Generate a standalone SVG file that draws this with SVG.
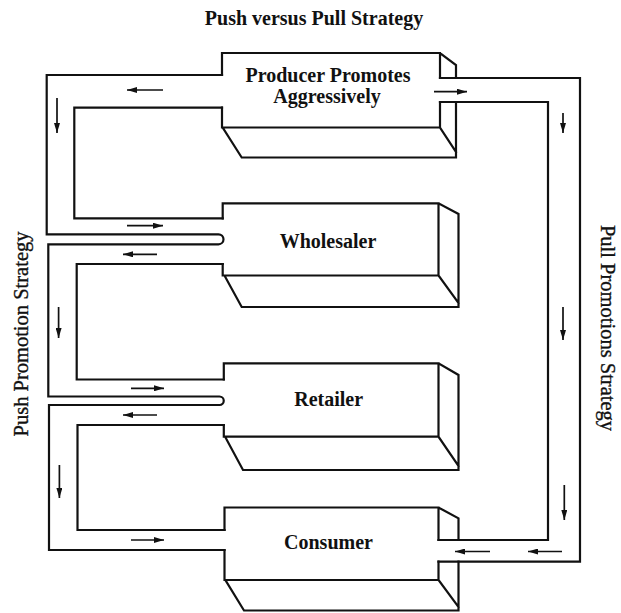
<svg xmlns="http://www.w3.org/2000/svg" width="621" height="613" viewBox="0 0 621 613">
  <style>
    .ln{fill:none;stroke:#111;stroke-width:2.2;stroke-linejoin:miter;stroke-linecap:square}
    .arr{fill:none;stroke:#111;stroke-width:1.7;marker-end:url(#head)}
    .lbl{font-family:"Liberation Serif","Times New Roman",serif;font-weight:bold;font-size:20px;text-anchor:middle;fill:#111}
    .side{font-family:"Liberation Serif","Times New Roman",serif;font-size:20.5px;text-anchor:middle;fill:#111;stroke:#111;stroke-width:0.35}
  </style>
  <defs>
    <marker id="head" viewBox="0 0 10 6" refX="10" refY="3" markerWidth="10" markerHeight="6" markerUnits="userSpaceOnUse" orient="auto">
      <path d="M0,0 L10,3 L0,6 z" fill="#111"/>
    </marker>
  </defs>
  <rect width="621" height="613" fill="#fff"/>

  <text class="lbl" x="314" y="24.5" font-size="20.5">Push versus Pull Strategy</text>
  <text class="side" transform="translate(28,334) rotate(-90)">Push Promotion Strategy</text>
  <text class="side" transform="translate(601,328) rotate(90)" font-size="20px">Pull Promotions Strategy</text>

  <!-- channel network: push loop on the left, pull loop on the right -->
  <g id="connectors">
    <path class="ln" d="M222,75 H46.7 V234.3 H218.5 A5,5 0 0 1 218.5,244.3 H48.3 V396.5 H219.5 A4.25,4.25 0 0 1 219.5,405 H49 V550 H224.5"/>
    <path class="ln" d="M222,107.7 H74.3 V218.3 H222.7 M222.7,264 H76.7 V379.5 H223.8 M223.8,425 H77.5 V530 H224.5"/>
    <path class="ln" d="M440,78 H580 V561.7 H438.5"/>
    <path class="ln" d="M440,102 H548 V540 H438.5"/>

    <path class="arr" d="M163,90 H127"/>
    <path class="arr" d="M57,98 V133"/>
    <path class="arr" d="M127,225.7 H163"/>
    <path class="arr" d="M157,254.3 H123"/>
    <path class="arr" d="M58.6,307 V338"/>
    <path class="arr" d="M131,388.3 H164"/>
    <path class="arr" d="M157,415 H123"/>
    <path class="arr" d="M59.4,465 V498"/>
    <path class="arr" d="M131,540 H164"/>

    <path class="arr" d="M434,91.7 H467"/>
    <path class="arr" d="M563,113 V133"/>
    <path class="arr" d="M563,307 V340"/>
    <path class="arr" d="M564.3,485 V520"/>
    <path class="arr" d="M490,551.5 H455"/>
    <path class="arr" d="M562,551.5 H528"/>
  </g>

  <g id="producer">
    <path class="ln" d="M222,75 V53 H440 L456,65 V78 M440,53 V78 M440,102 V127.5 M456,102 V157.5 M222,107.7 V127.5 H440 M223,128 L241.7,157.5 H456 M440,127.5 L456,152"/>
    <text class="lbl" x="328" y="81.7">Producer Promotes</text>
    <text class="lbl" x="327" y="103.3">Aggressively</text>
  </g>

  <g id="wholesaler">
    <path class="ln" d="M222.7,218.3 V203.3 H438.5 L458.5,214 V307 M438.5,203.3 V275.5 M222.7,264 V275.5 H438.5 M225,276.5 L241.7,307 H458.5 M438.5,275.5 L458.5,303"/>
    <text class="lbl" x="328" y="247.5">Wholesaler</text>
  </g>

  <g id="retailer">
    <path class="ln" d="M223.8,379.5 V363.3 H438.5 L458.5,375 V470 M438.5,363.3 V436.7 M223.8,425 V436.7 H438.5 M225.5,437.5 L243,470 H458.5 M438.5,436.7 L458.5,466"/>
    <text class="lbl" x="328.7" y="406">Retailer</text>
  </g>

  <g id="consumer">
    <path class="ln" d="M224.5,530 V507.5 H438.5 L458.5,518.3 V540 M438.5,507.5 V540 M438.5,561.7 V580 M458.5,561.7 V610.5 M224.5,550 V580 H438.5 M226,581 L244,610.5 H458.5 M438.5,580 L458.5,607"/>
    <text class="lbl" x="328.5" y="549">Consumer</text>
  </g>
</svg>
